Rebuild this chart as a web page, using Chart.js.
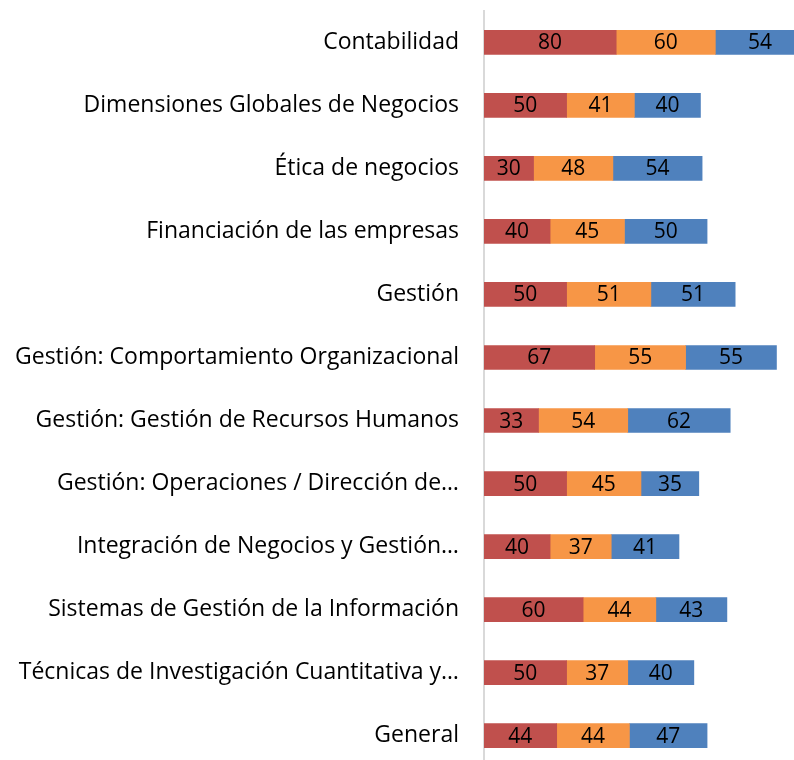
<!DOCTYPE html>
<html>
<head>
<meta charset="utf-8">
<script src="https://cdn.jsdelivr.net/npm/chart.js@4"></script>
<style>
  body { margin: 0; overflow: hidden; background: #fff; }
  #chart { position: relative; top: -28px; }
</style>
</head>
<body>
<canvas id="chart" width="831" height="834"></canvas>
<script>
const categories = [
  'Contabilidad',
  'Dimensiones Globales de Negocios',
  'Ética de negocios',
  'Financiación de las empresas',
  'Gestión',
  'Gestión: Comportamiento Organizacional',
  'Gestión: Gestión de Recursos Humanos',
  'Gestión: Operaciones / Dirección de…',
  'Integración de Negocios y Gestión…',
  'Sistemas de Gestión de la Información',
  'Técnicas de Investigación Cuantitativa y…',
  'General'
]
const redValues = [80, 50, 30, 40, 50, 67, 33, 50, 40, 60, 50, 44]
const orangeValues = [60, 41, 48, 45, 51, 55, 54, 45, 37, 44, 37, 44]
const blueValues = [54, 40, 54, 50, 51, 55, 62, 35, 41, 43, 40, 47]

const FONT = '"Open Sans", sans-serif'

// draws each value in the middle of its bar segment
const barValues = {
  id: 'barValues',
  afterDatasetsDraw(chart) {
    const ctx = chart.ctx
    ctx.save()
    ctx.font = '21px ' + FONT
    ctx.fillStyle = '#000'
    ctx.textAlign = 'center'
    ctx.textBaseline = 'middle'
    chart.data.datasets.forEach((ds, i) => {
      chart.getDatasetMeta(i).data.forEach((bar, j) => {
        ctx.fillText(ds.data[j], (bar.x + bar.base) / 2, bar.y + 1)
      })
    })
    ctx.restore()
  }
}

const ctx = document.getElementById('chart').getContext('2d')
new Chart(ctx, {
  type: 'bar',
  data: {
    labels: categories,
    datasets: [
      { data: redValues, backgroundColor: '#C0504D' },
      { data: orangeValues, backgroundColor: '#F79646' },
      { data: blueValues, backgroundColor: '#4F81BD' }
    ]
  },
  options: {
    indexAxis: 'y',
    responsive: false,
    animation: false,
    layout: { padding: 0 },
    datasets: { bar: { barThickness: 24, borderWidth: 0 } },
    plugins: {
      legend: { display: false },
      tooltip: { enabled: false }
    },
    scales: {
      x: {
        stacked: true,
        display: false,
        min: 0,
        max: 210
      },
      y: {
        stacked: true,
        afterFit: scale => { scale.width = 484 },
        grid: { display: false, drawTicks: false },
        border: { display: true, color: '#d9d9d9', width: 2 },
        ticks: {
          color: '#000',
          padding: 25,
          autoSkip: false,
          font: { family: FONT, size: 23 }
        }
      }
    }
  },
  plugins: [barValues]
})
</script>
</body>
</html>
